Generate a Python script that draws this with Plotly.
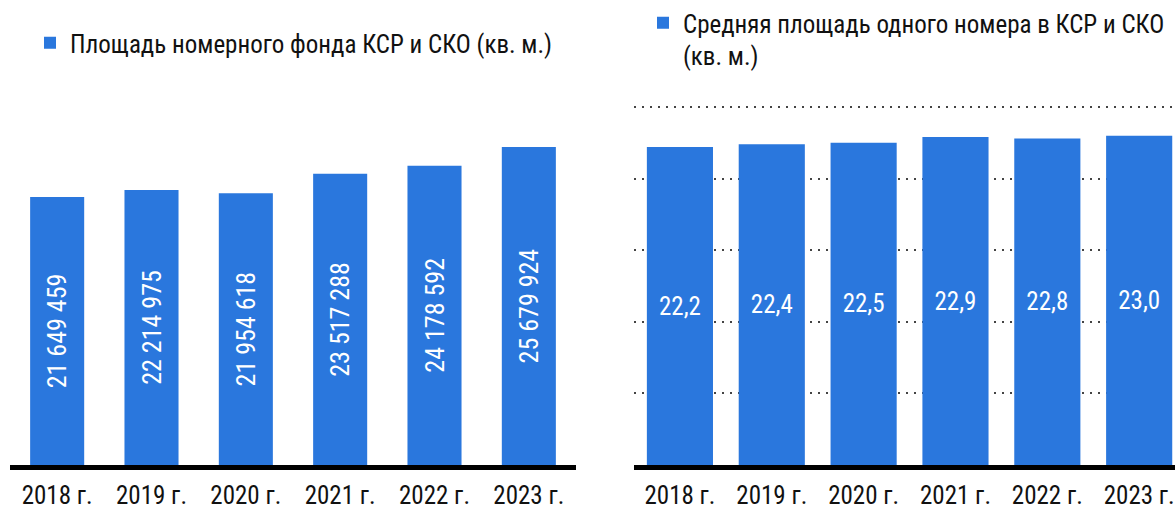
import plotly.graph_objects as go

years = ["2018 г.", "2019 г.", "2020 г.", "2021 г.", "2022 г.", "2023 г."]
area_total = [21649459, 22214975, 21954618, 23517288, 24178592, 25679924]
area_avg = [22.2, 22.4, 22.5, 22.9, 22.8, 23.0]

name_total = "Площадь номерного фонда КСР и СКО (кв. м.)"
name_avg = "Средняя площадь одного номера в КСР и СКО<br>(кв. м.)"

BLUE = "#2A77DD"
FONT = "Liberation Sans Narrow, Roboto Condensed, Noto Sans Condensed, DejaVu Sans Condensed, Arial Narrow, Roboto, sans-serif"

W, H = 1175, 509
y_bottom = 465
y_top = 103.5
ydom = [(H - y_bottom) / H, (H - y_top) / H]
px_per_unit_avg = 14.32
px_per_unit_total = 12.38e-6

text_total = [f"{v:,}".replace(",", " ") for v in area_total]
text_avg = [f"{v:.1f}".replace(".", ",") for v in area_avg]

fig = go.Figure()
fig.add_trace(go.Bar(
    x=years, y=area_total, name=name_total, marker_color=BLUE,
    marker_line_width=0, width=0.573,
    text=text_total, textposition="inside", textangle=-90,
    insidetextanchor="middle", textfont=dict(color="white", size=26, family=FONT),
    xaxis="x", yaxis="y", legend="legend",
))
fig.add_trace(go.Bar(
    x=years, y=area_avg, name=name_avg, marker_color=BLUE,
    marker_line_width=0, width=0.72,
    text=text_avg, textposition="inside", textangle=0,
    insidetextanchor="middle", textfont=dict(color="white", size=25, family=FONT),
    xaxis="x2", yaxis="y2", legend="legend2",
))

axis_common = dict(
    showline=True, linecolor="black", linewidth=5,
    ticks="", tickfont=dict(size=25, color="#111", family=FONT),
    showgrid=False, zeroline=False, ticklabelstandoff=4,
)

fig.update_layout(
    width=W, height=H,
    margin=dict(l=0, r=0, t=0, b=0, autoexpand=False),
    paper_bgcolor="white", plot_bgcolor="white",
    font=dict(family=FONT, size=25, color="#111"),
    showlegend=True,
    xaxis=dict(domain=[10 / W, 576 / W], range=[-0.5, 5.5], anchor="y", **axis_common),
    xaxis2=dict(domain=[634 / W, 1.0], range=[-0.5, 5.39], anchor="y2", **axis_common),
    yaxis=dict(domain=ydom, range=[0, (y_bottom - y_top) / px_per_unit_total],
               showticklabels=False, showgrid=False,
               zeroline=False, showline=False, anchor="x"),
    yaxis2=dict(domain=ydom, range=[0, (y_bottom - y_top) / px_per_unit_avg],
                tickvals=[5, 10, 15, 20, 25], showticklabels=False, showgrid=True,
                gridcolor="#444", gridwidth=1.6, griddash="2px,6px",
                zeroline=False, showline=False, anchor="x2"),
    legend=dict(x=30 / W, xanchor="left", y=1 - 20 / H, yanchor="top",
                font=dict(size=25, family=FONT, color="#111"), bgcolor="rgba(0,0,0,0)",
                borderwidth=0),
    legend2=dict(x=643 / W, xanchor="left", y=1.0, yanchor="top",
                 font=dict(size=25, family=FONT, color="#111"), bgcolor="rgba(0,0,0,0)",
                 borderwidth=0, valign="top"),
)

fig.write_html(
    "out.html",
    config={"displayModeBar": False},
    post_script="document.body.style.margin='0';document.body.style.overflow='hidden';",
)
